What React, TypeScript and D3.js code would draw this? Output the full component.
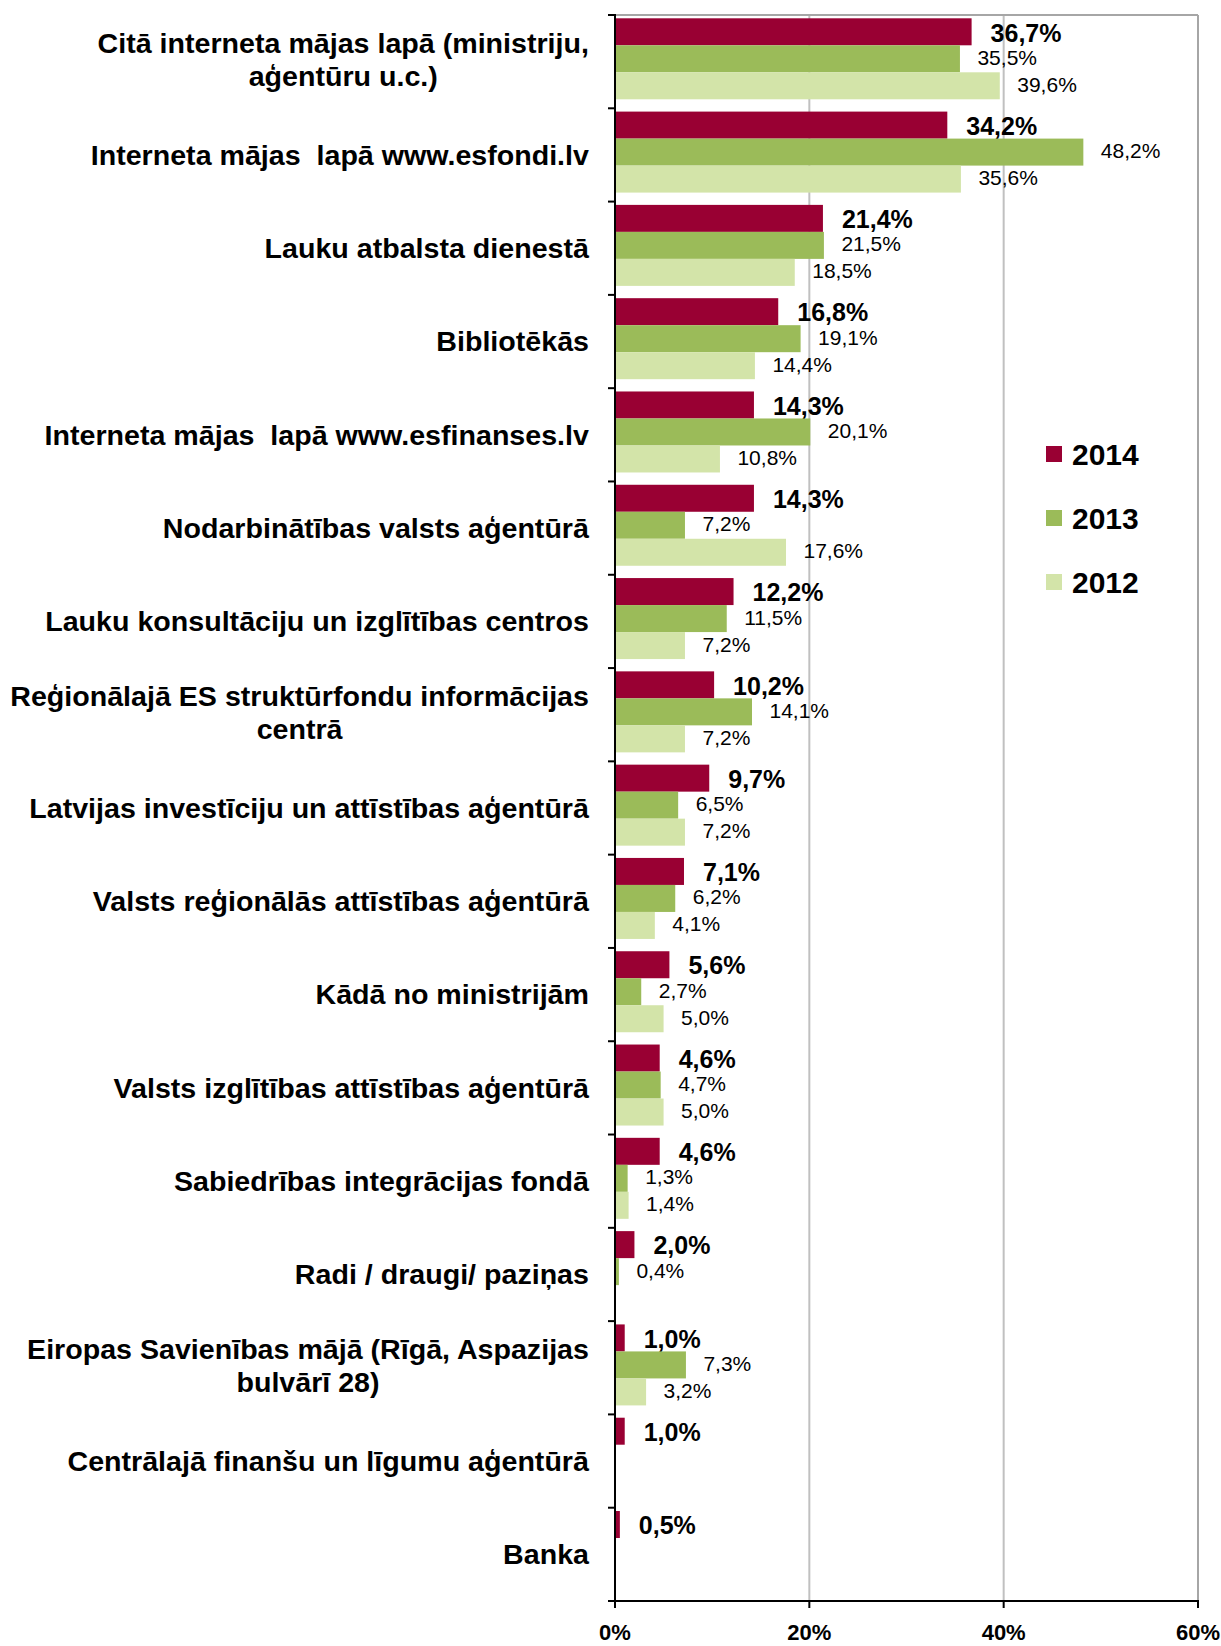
import React, { useEffect, useRef } from 'react'
import * as d3 from 'd3'

const WIDTH = 1221
const HEIGHT = 1646

const categories = [
  'Citā interneta mājas lapā (ministriju,\naģentūru u.c.)',
  'Interneta mājas  lapā www.esfondi.lv',
  'Lauku atbalsta dienestā',
  'Bibliotēkās',
  'Interneta mājas  lapā www.esfinanses.lv',
  'Nodarbinātības valsts aģentūrā',
  'Lauku konsultāciju un izglītības centros',
  'Reģionālajā ES struktūrfondu informācijas\ncentrā',
  'Latvijas investīciju un attīstības aģentūrā',
  'Valsts reģionālās attīstības aģentūrā',
  'Kādā no ministrijām',
  'Valsts izglītības attīstības aģentūrā',
  'Sabiedrības integrācijas fondā',
  'Radi / draugi/ paziņas',
  'Eiropas Savienības mājā (Rīgā, Aspazijas\nbulvārī 28)',
  'Centrālajā finanšu un līgumu aģentūrā',
  'Banka',
]

const series = ['2014', '2013', '2012']

const values2014 = [36.7, 34.2, 21.4, 16.8, 14.3, 14.3, 12.2, 10.2, 9.7, 7.1, 5.6, 4.6, 4.6, 2.0, 1.0, 1.0, 0.5]
const values2013 = [35.5, 48.2, 21.5, 19.1, 20.1, 7.2, 11.5, 14.1, 6.5, 6.2, 2.7, 4.7, 1.3, 0.4, 7.3, null, null]
const values2012 = [39.6, 35.6, 18.5, 14.4, 10.8, 17.6, 7.2, 7.2, 7.2, 4.1, 5.0, 5.0, 1.4, null, 3.2, null, null]

const xTicks = [0, 20, 40, 60]

const colors = { '2014': '#990033', '2013': '#9bbb59', '2012': '#d3e4a9' }
const FONT = '"Liberation Sans", Arial, sans-serif'

const PLOT_LEFT = 615
const PLOT_RIGHT = 1198
const PLOT_TOP = 15
const PLOT_BOTTOM = 1601

export default function App() {
  const ref = useRef(null)

  const drawChart = () => {
    const svg = d3.select(ref.current)
    svg.selectAll('*').remove()

    const rows = categories.map((c, i) => ({
      name: c,
      vals: [values2014[i], values2013[i], values2012[i]],
    }))

    const xScale = d3.scaleLinear().domain([0, 60]).range([PLOT_LEFT, PLOT_RIGHT])
    const yScale = d3.scaleBand().domain(categories).range([PLOT_TOP, PLOT_BOTTOM])
    const subScale = d3.scaleBand().domain(series).range([3.3, 3.3 + 3 * 27])

    svg.append('rect').attr('width', WIDTH).attr('height', HEIGHT).attr('fill', 'white')

    // grid + frame
    const grid = svg.append('g')
    grid.selectAll('line')
      .data(xTicks.slice(1))
      .enter()
      .append('line')
      .attr('x1', (d) => xScale(d))
      .attr('x2', (d) => xScale(d))
      .attr('y1', PLOT_TOP)
      .attr('y2', PLOT_BOTTOM)
      .attr('stroke', (d) => (d === 60 ? '#a6a6a6' : '#c0c0c0'))
      .attr('stroke-width', 2)
    grid.append('line')
      .attr('x1', PLOT_LEFT).attr('x2', PLOT_RIGHT)
      .attr('y1', PLOT_TOP).attr('y2', PLOT_TOP)
      .attr('stroke', '#a6a6a6').attr('stroke-width', 2)

    // bars
    const groups = svg.append('g').selectAll('g')
      .data(rows)
      .enter()
      .append('g')
      .attr('transform', (d) => `translate(0, ${yScale(d.name)})`)

    series.forEach((s, si) => {
      const withVal = groups.filter((d) => d.vals[si] != null)
      withVal.append('rect')
        .attr('x', xScale(0))
        .attr('y', subScale(s))
        .attr('width', (d) => xScale(d.vals[si]) - xScale(0))
        .attr('height', subScale.bandwidth())
        .attr('fill', colors[s])
      withVal.append('text')
        .attr('x', (d) => xScale(d.vals[si]) + (si === 0 ? 19 : 17.5))
        .attr('y', subScale(s) + subScale.bandwidth() / 2 + (si === 0 ? 9.7 : 6))
        .attr('font-family', FONT)
        .attr('font-size', si === 0 ? 25 : 21)
        .attr('font-weight', si === 0 ? 'bold' : 'normal')
        .attr('fill', '#000')
        .text((d) => d.vals[si].toFixed(1).replace('.', ',') + '%')
    })

    // left axis
    const axis = svg.append('g')
    axis.append('line')
      .attr('x1', PLOT_LEFT).attr('x2', PLOT_LEFT)
      .attr('y1', PLOT_TOP - 1).attr('y2', PLOT_BOTTOM + 1)
      .attr('stroke', '#000').attr('stroke-width', 2)
    const bounds = categories.map((c) => yScale(c)).concat([PLOT_BOTTOM])
    axis.selectAll('.ytick')
      .data(bounds)
      .enter()
      .append('line')
      .attr('class', 'ytick')
      .attr('x1', PLOT_LEFT - 7).attr('x2', PLOT_LEFT)
      .attr('y1', (d) => d).attr('y2', (d) => d)
      .attr('stroke', '#000').attr('stroke-width', 2)

    // bottom axis
    axis.append('line')
      .attr('x1', PLOT_LEFT - 7).attr('x2', PLOT_RIGHT + 1)
      .attr('y1', PLOT_BOTTOM).attr('y2', PLOT_BOTTOM)
      .attr('stroke', '#000').attr('stroke-width', 2)
    axis.selectAll('.xtick')
      .data(xTicks)
      .enter()
      .append('line')
      .attr('class', 'xtick')
      .attr('x1', (d) => xScale(d)).attr('x2', (d) => xScale(d))
      .attr('y1', PLOT_BOTTOM).attr('y2', PLOT_BOTTOM + 7)
      .attr('stroke', '#000').attr('stroke-width', 2)
    axis.selectAll('.xlabel')
      .data(xTicks)
      .enter()
      .append('text')
      .attr('class', 'xlabel')
      .attr('x', (d) => xScale(d))
      .attr('y', 1640)
      .attr('text-anchor', 'middle')
      .attr('font-family', FONT)
      .attr('font-size', 22)
      .attr('font-weight', 'bold')
      .text((d) => `${d}%`)

    // category labels (slightly wide glyphs in the original)
    const LABEL_RIGHT = 589
    const LINE_H = 32.5
    const STRETCH = 1.06
    categories.forEach((c) => {
      const lines = c.split('\n')
      const center = yScale(c) + yScale.bandwidth() / 2 - (lines.length > 1 ? 2 : 0)
      const texts = lines.map((line, li) => {
        const g = svg.append('g')
        const t = g.append('text')
          .attr('text-anchor', 'middle')
          .attr('font-family', FONT)
          .attr('font-size', 27)
          .attr('font-weight', 'bold')
          .style('white-space', 'pre')
          .text(line)
        return { g, t, y: center + (li - (lines.length - 1) / 2) * LINE_H + 9.7 }
      })
      const maxW = d3.max(texts, (o) => o.t.node().getComputedTextLength()) * STRETCH
      texts.forEach((o) => {
        o.g.attr('transform', `translate(${LABEL_RIGHT - maxW / 2}, ${o.y}) scale(${STRETCH}, 1)`)
      })
    })

    // legend
    const legend = svg.append('g').attr('transform', 'translate(1046, 446)')
    series.forEach((s, i) => {
      legend.append('rect')
        .attr('x', 0).attr('y', i * 64)
        .attr('width', 16).attr('height', 16)
        .attr('fill', colors[s])
      legend.append('text')
        .attr('x', 26).attr('y', i * 64 + 19)
        .attr('font-family', FONT)
        .attr('font-size', 30)
        .attr('font-weight', 'bold')
        .text(s)
    })
  }

  useEffect(() => {
    drawChart()
  }, [])

  return (
    <div style={{ position: 'absolute', left: 0, top: 0 }}>
      <svg ref={ref} width={WIDTH} height={HEIGHT} style={{ display: 'block' }}></svg>
    </div>
  )
}
